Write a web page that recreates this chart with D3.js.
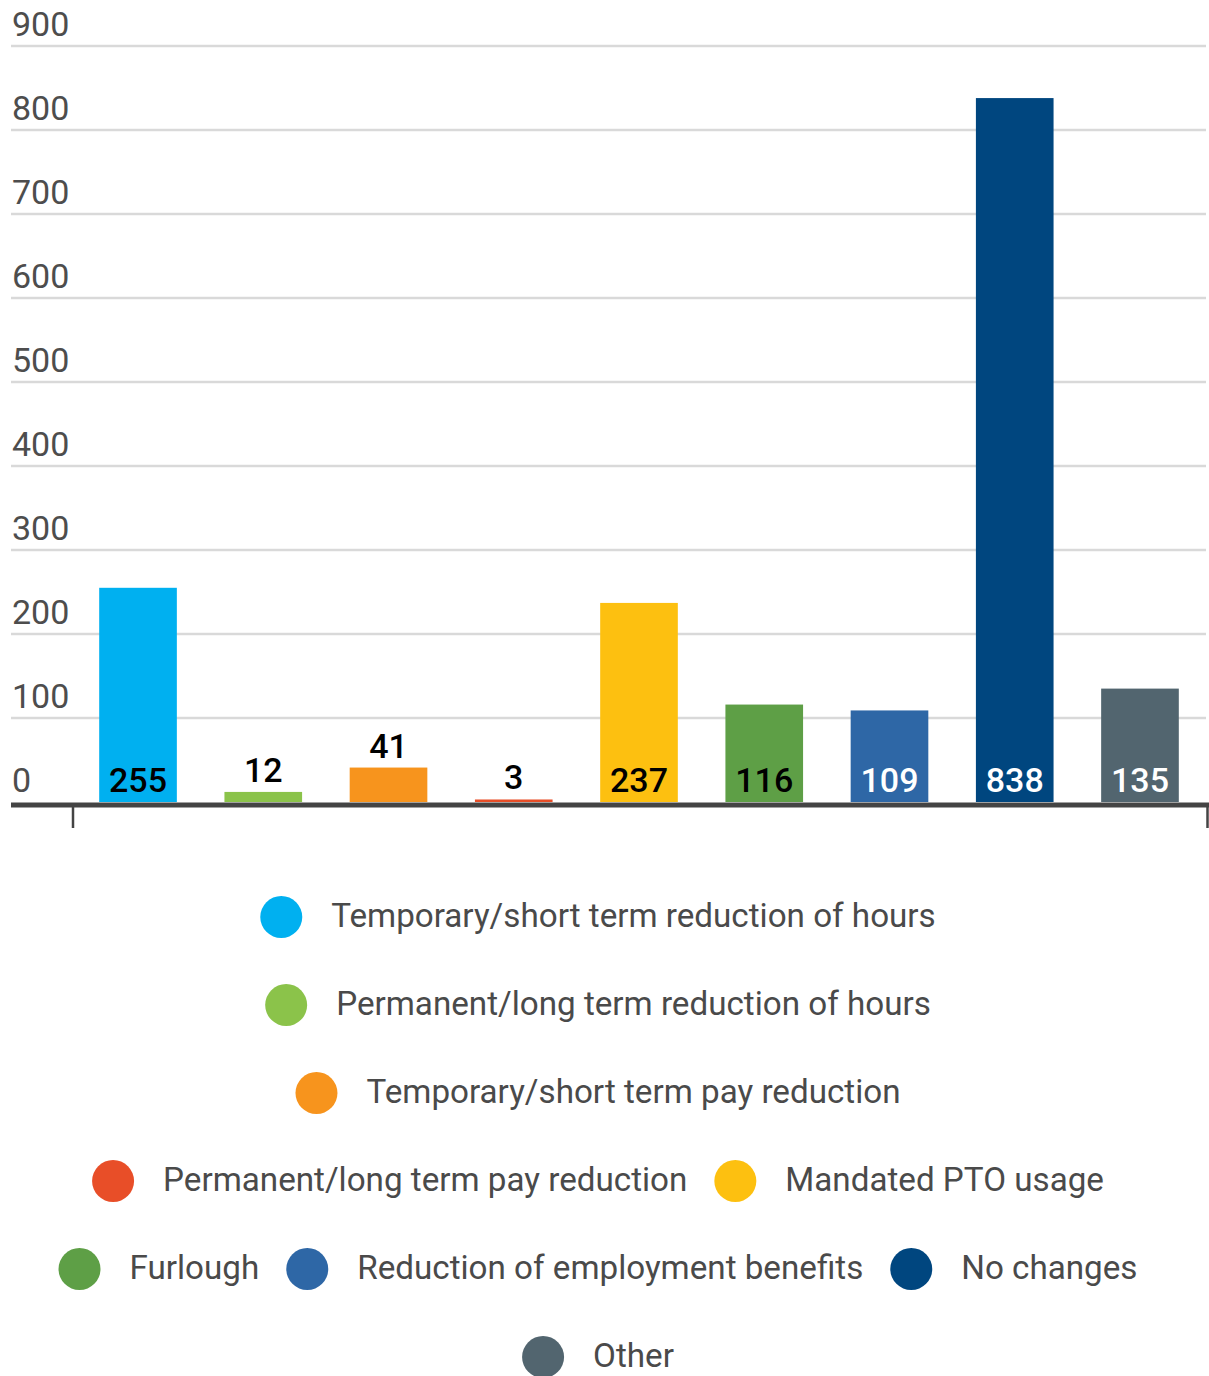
<!DOCTYPE html>
<html>
<head>
<meta charset="utf-8">
<script src="https://cdn.jsdelivr.net/npm/d3@7"></script>
<style>
    body { margin: 0; background: #fff; }
    svg { display: block; font-family: Roboto, "Noto Sans", sans-serif; }
</style>
</head>
<body>
<div id="chart_parent"></div>
<script>
const categories = [
    'Temporary/short term reduction of hours',
    'Permanent/long term reduction of hours',
    'Temporary/short term pay reduction',
    'Permanent/long term pay reduction',
    'Mandated PTO usage',
    'Furlough',
    'Reduction of employment benefits',
    'No changes',
    'Other',
];
const values = [255, 12, 41, 3, 237, 116, 109, 838, 135];
const colours = ['#00b0f0', '#8bc34a', '#f7941d', '#e84e28', '#fdc010', '#5e9f46', '#2e67a6', '#00467f', '#52656f'];
const labelColours = ['#000', '#000', '#000', '#000', '#000', '#000', '#fff', '#fff', '#fff'];
const yTicks = [0, 100, 200, 300, 400, 500, 600, 700, 800, 900];

const config = {
    width: 1209,
    height: 1376,
    gridLeft: 11,
    gridRight: 1206,
    baseY: 802,
    topY: 46,
    bandLeft: 75.4,
    bandRight: 1202.6,
    legendTop: 917,
    legendCentre: 598,
    legendRowGap: 88,
    legendMaxWidth: 1150,
    legendR: 21,
    legendTextOffset: 50, // circle centre -> text start
    legendItemGap: 27,
};

const svg = d3.select('#chart_parent').append('svg')
    .attr('width', config.width)
    .attr('height', config.height);

const yScale = d3.scaleLinear()
    .domain([0, 900])
    .range([config.baseY, config.topY]);

const xScale = d3.scaleBand()
    .domain(categories)
    .range([config.bandLeft, config.bandRight])
    .paddingInner(0.38)
    .paddingOuter(0.19);

// gridlines + tick labels
const grid = svg.append('g').attr('class', 'grid');
grid.selectAll('line')
    .data(yTicks.filter(t => t > 0))
    .join('line')
    .attr('x1', config.gridLeft)
    .attr('x2', config.gridRight)
    .attr('y1', d => yScale(d))
    .attr('y2', d => yScale(d))
    .attr('stroke', '#d9d9d9')
    .attr('stroke-width', 2.5);

grid.selectAll('text')
    .data(yTicks)
    .join('text')
    .attr('x', 12)
    .attr('y', d => yScale(d) - 10)
    .attr('fill', '#4d4d4d')
    .attr('font-size', 34)
    .text(d => d);

// bars
svg.append('g').selectAll('rect')
    .data(values)
    .join('rect')
    .attr('x', (d, i) => xScale(categories[i]))
    .attr('width', xScale.bandwidth())
    .attr('y', d => yScale(d))
    .attr('height', d => config.baseY - yScale(d))
    .attr('fill', (d, i) => colours[i]);

// value labels: inside at the bottom when the bar is tall enough, else above
const fitsInside = d => config.baseY - yScale(d) > 45;
svg.append('g').selectAll('text')
    .data(values)
    .join('text')
    .attr('x', (d, i) => xScale(categories[i]) + xScale.bandwidth() / 2)
    .attr('y', d => (fitsInside(d) ? config.baseY : yScale(d)) - 10)
    .attr('text-anchor', 'middle')
    .attr('font-size', 34)
    .attr('font-weight', 500)
    .attr('fill', (d, i) => (fitsInside(d) ? labelColours[i] : '#000'))
    .text(d => d);

// x axis baseline and end ticks
const axis = svg.append('g').attr('class', 'x-axis');
axis.append('line')
    .attr('x1', config.gridLeft)
    .attr('x2', config.width)
    .attr('y1', config.baseY + 3)
    .attr('y2', config.baseY + 3)
    .attr('stroke', '#444')
    .attr('stroke-width', 5);
axis.selectAll('.tick')
    .data([73, 1207.5])
    .join('line')
    .attr('class', 'tick')
    .attr('x1', d => d)
    .attr('x2', d => d)
    .attr('y1', config.baseY + 5)
    .attr('y2', config.baseY + 26)
    .attr('stroke', '#444')
    .attr('stroke-width', 2.5);

// legend, wrapped into centred rows
const legend = svg.append('g').attr('class', 'legend');
const items = categories.map((c, i) => {
    const g = legend.append('g');
    g.append('circle')
        .attr('cx', config.legendR)
        .attr('r', config.legendR)
        .attr('fill', colours[i]);
    const txt = g.append('text')
        .attr('x', config.legendR + config.legendTextOffset)
        .attr('y', 10)
        .attr('font-size', 33.2)
        .attr('fill', '#4a4a4a')
        .text(c);
    const w = config.legendR + config.legendTextOffset + txt.node().getComputedTextLength();
    return { g, w };
});

const rows = [];
let row = [];
let rowW = 0;
items.forEach(it => {
    const extra = row.length ? config.legendItemGap + it.w : it.w;
    if (row.length && rowW + extra > config.legendMaxWidth) {
        rows.push({ row, rowW });
        row = [];
        rowW = 0;
    }
    rowW += row.length ? config.legendItemGap + it.w : it.w;
    row.push(it);
});
rows.push({ row, rowW });

rows.forEach((r, ri) => {
    let x = config.legendCentre - r.rowW / 2;
    const y = config.legendTop + ri * config.legendRowGap;
    r.row.forEach(it => {
        it.g.attr('transform', `translate(${x},${y})`);
        x += it.w + config.legendItemGap;
    });
});
</script>
</body>
</html>
